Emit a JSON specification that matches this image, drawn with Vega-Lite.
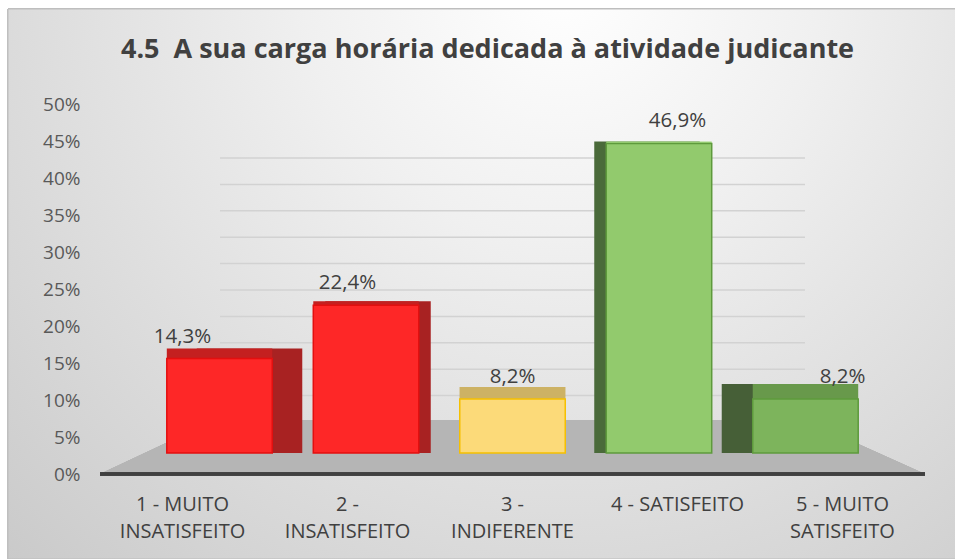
{
  "$schema": "https://vega.github.io/schema/vega-lite/v6.json",
  "width": 825,
  "height": 370,
  "autosize": {"type": "none"},
  "padding": {"left": 100, "top": 104, "right": 30, "bottom": 85},
  "background": "#ffffff",
  "title": {
    "text": "4.5\u00a0\u00a0A sua carga horária dedicada à atividade judicante",
    "font": "Open Sans",
    "fontSize": 27,
    "fontWeight": "bold",
    "color": "#404040",
    "anchor": "middle",
    "frame": "group",
    "dx": -25,
    "offset": -78,
    "baseline": "alphabetic",
    "zindex": 2
  },
  "data": {
    "values": [
      {"cat": "1 - MUITO INSATISFEITO", "value": 0.143},
      {"cat": "2 - INSATISFEITO", "value": 0.224},
      {"cat": "3 - INDIFERENTE", "value": 0.082},
      {"cat": "4 - SATISFEITO", "value": 0.469},
      {"cat": "5 - MUITO SATISFEITO", "value": 0.082}
    ]
  },
  "layer": [
    {
      "mark": {
        "type": "point",
        "shape": "M-1,-0.5451L1,-0.5451L1,0.5451L-1,0.5451Z",
        "filled": true,
        "opacity": 1,
        "size": 1018081,
        "fill": {
          "gradient": "radial",
          "x1": 0.55, "y1": 0.2, "r1": 0,
          "x2": 0.55, "y2": 0.2, "r2": 0.85,
          "stops": [
            {"offset": 0, "color": "#ffffff"},
            {"offset": 0.3, "color": "#f0f0f0"},
            {"offset": 1, "color": "#c6c6c6"}
          ]
        },
        "stroke": "#bdbdbd",
        "strokeWidth": 1
      },
      "encoding": {
        "x": {
          "datum": "3 - INDIFERENTE",
          "type": "nominal",
          "scale": {
            "type": "band",
            "domain": ["1 - MUITO INSATISFEITO", "2 - INSATISFEITO", "3 - INDIFERENTE", "4 - SATISFEITO", "5 - MUITO SATISFEITO"],
            "paddingInner": 0,
            "paddingOuter": 0
          },
          "axis": null
        },
        "y": {
          "datum": 0.26136,
          "type": "quantitative",
          "scale": {"domain": [-0.09848, 0.60227], "nice": false, "zero": false},
          "axis": null
        }
      }
    },
    {
      "data": {
        "values": [
          {"v": 0.05}, {"v": 0.1}, {"v": 0.15}, {"v": 0.2}, {"v": 0.25},
          {"v": 0.3}, {"v": 0.35}, {"v": 0.4}, {"v": 0.45}, {"v": 0.5}
        ]
      },
      "mark": {"type": "rule", "color": "#d2d2d2", "strokeWidth": 1.5},
      "encoding": {
        "y": {
          "field": "v",
          "type": "quantitative",
          "scale": {"domain": [-0.09848, 0.60227], "nice": false, "zero": false},
          "axis": null
        },
        "x": {
          "datum": 0.14545,
          "type": "quantitative",
          "scale": {"domain": [0, 1], "nice": false, "zero": false},
          "axis": null
        },
        "x2": {"datum": 0.85455}
      }
    },
    {
      "mark": {
        "type": "point",
        "shape": "M-1,0.0655L1,0.0655L0.7091,-0.0655L-0.7212,-0.0655Z",
        "filled": true,
        "opacity": 1,
        "size": 680625,
        "fill": "#b5b5b5",
        "strokeWidth": 0
      },
      "encoding": {
        "x": {
          "datum": "3 - INDIFERENTE",
          "type": "nominal",
          "scale": {
            "type": "band",
            "domain": ["1 - MUITO INSATISFEITO", "2 - INSATISFEITO", "3 - INDIFERENTE", "4 - SATISFEITO", "5 - MUITO SATISFEITO"],
            "paddingInner": 0,
            "paddingOuter": 0
          },
          "axis": {
            "orient": "bottom",
            "zindex": 1,
            "title": null,
            "domain": false,
            "ticks": false,
            "grid": false,
            "labelAngle": 0,
            "labelPadding": 20,
            "labelFont": "Open Sans",
            "labelFontSize": 20,
            "labelColor": "#404040",
            "labelLineHeight": 27,
            "labelOverlap": false,
            "labelLimit": 0,
            "labelExpr": "datum.value == '1 - MUITO INSATISFEITO' ? ['1 - MUITO', 'INSATISFEITO'] : datum.value == '2 - INSATISFEITO' ? ['2 -', 'INSATISFEITO'] : datum.value == '3 - INDIFERENTE' ? ['3 -', 'INDIFERENTE'] : datum.value == '5 - MUITO SATISFEITO' ? ['5 - MUITO', 'SATISFEITO'] : datum.value"
          }
        },
        "y": {
          "datum": -0.04735,
          "type": "quantitative",
          "scale": {"domain": [-0.09848, 0.60227], "nice": false, "zero": false},
          "axis": null
        }
      }
    },
    {
      "mark": {"type": "rule", "color": "#404040", "strokeWidth": 3},
      "encoding": {
        "y": {
          "datum": 0,
          "type": "quantitative",
          "scale": {"domain": [0, 0.5], "nice": false},
          "axis": {
            "orient": "left",
            "zindex": 1,
            "title": null,
            "values": [0, 0.05, 0.1, 0.15, 0.2, 0.25, 0.3, 0.35, 0.4, 0.45, 0.5],
            "format": ".0%",
            "domain": false,
            "ticks": false,
            "grid": false,
            "labelPadding": 20,
            "labelFont": "Open Sans",
            "labelFontSize": 19,
            "labelColor": "#595959"
          }
        }
      }
    },
    {
      "mark": {
        "type": "bar",
        "xOffset": {"expr": "[30, 12, 0, -12, -31][indexof(['1 - MUITO INSATISFEITO', '2 - INSATISFEITO', '3 - INDIFERENTE', '4 - SATISFEITO', '5 - MUITO SATISFEITO'], datum.cat)]"},
        "yOffset": {"expr": "[-10, -4, -12, -2, -15][indexof(['1 - MUITO INSATISFEITO', '2 - INSATISFEITO', '3 - INDIFERENTE', '4 - SATISFEITO', '5 - MUITO SATISFEITO'], datum.cat)]"}
      },
      "encoding": {
        "x": {
          "field": "cat",
          "type": "nominal",
          "sort": null,
          "scale": {"paddingInner": 0.28, "paddingOuter": 0.456},
          "axis": null
        },
        "y": {
          "field": "value",
          "type": "quantitative",
          "scale": {"domain": [-0.03182, 0.52879], "nice": false, "zero": false},
          "axis": null
        },
        "y2": {"datum": 0},
        "color": {
          "field": "cat",
          "type": "nominal",
          "sort": null,
          "scale": {"range": ["#a82222", "#a82222", "#c9a64e", "#4a6a3a", "#465f37"]},
          "legend": null
        }
      }
    },
    {
      "mark": {
        "type": "bar",
        "yOffset": {"expr": "[-10, -4, -12, -2, -15][indexof(['1 - MUITO INSATISFEITO', '2 - INSATISFEITO', '3 - INDIFERENTE', '4 - SATISFEITO', '5 - MUITO SATISFEITO'], datum.cat)]"}
      },
      "encoding": {
        "x": {
          "field": "cat",
          "type": "nominal",
          "sort": null,
          "scale": {"paddingInner": 0.28, "paddingOuter": 0.456},
          "axis": null
        },
        "y": {
          "field": "value",
          "type": "quantitative",
          "scale": {"domain": [-0.03182, 0.52879], "nice": false, "zero": false},
          "axis": null
        },
        "y2": {"datum": 0},
        "color": {
          "field": "cat",
          "type": "nominal",
          "sort": null,
          "scale": {"range": ["#c42020", "#c42020", "#cdb264", "#a4da80", "#68994b"]},
          "legend": null
        }
      }
    },
    {
      "mark": {"type": "bar", "strokeWidth": 1.5},
      "encoding": {
        "x": {
          "field": "cat",
          "type": "nominal",
          "sort": null,
          "scale": {"paddingInner": 0.28, "paddingOuter": 0.456},
          "axis": null
        },
        "y": {
          "field": "value",
          "type": "quantitative",
          "scale": {"domain": [-0.03182, 0.52879], "nice": false, "zero": false},
          "axis": null
        },
        "y2": {"datum": 0},
        "color": {
          "field": "cat",
          "type": "nominal",
          "sort": null,
          "scale": {"range": ["#fe2727", "#fe2727", "#fcda79", "#92ca6d", "#7db45c"]},
          "legend": null
        },
        "stroke": {
          "field": "cat",
          "type": "nominal",
          "sort": null,
          "scale": {"range": ["#e30f0f", "#e30f0f", "#f5c000", "#5e9a3c", "#5e9a3c"]},
          "legend": null
        }
      }
    },
    {
      "mark": {"type": "text", "font": "Open Sans", "fontSize": 20.5, "color": "#404040", "baseline": "alphabetic", "dy": -16},
      "encoding": {
        "x": {
          "field": "cat",
          "type": "nominal",
          "sort": null,
          "scale": {"paddingInner": 0.28, "paddingOuter": 0.456},
          "axis": null
        },
        "y": {
          "field": "value",
          "type": "quantitative",
          "scale": {"domain": [-0.03182, 0.52879], "nice": false, "zero": false},
          "axis": null
        },
        "text": {"field": "value", "type": "quantitative", "format": ".1%"}
      }
    }
  ],
  "resolve": {
    "scale": {"x": "independent", "y": "independent", "color": "independent", "stroke": "independent"},
    "axis": {"x": "independent", "y": "independent"}
  },
  "config": {
    "view": {"stroke": null},
    "locale": {
      "number": {"decimal": ",", "thousands": ".", "grouping": [3], "currency": ["R$ ", ""]}
    }
  }
}
